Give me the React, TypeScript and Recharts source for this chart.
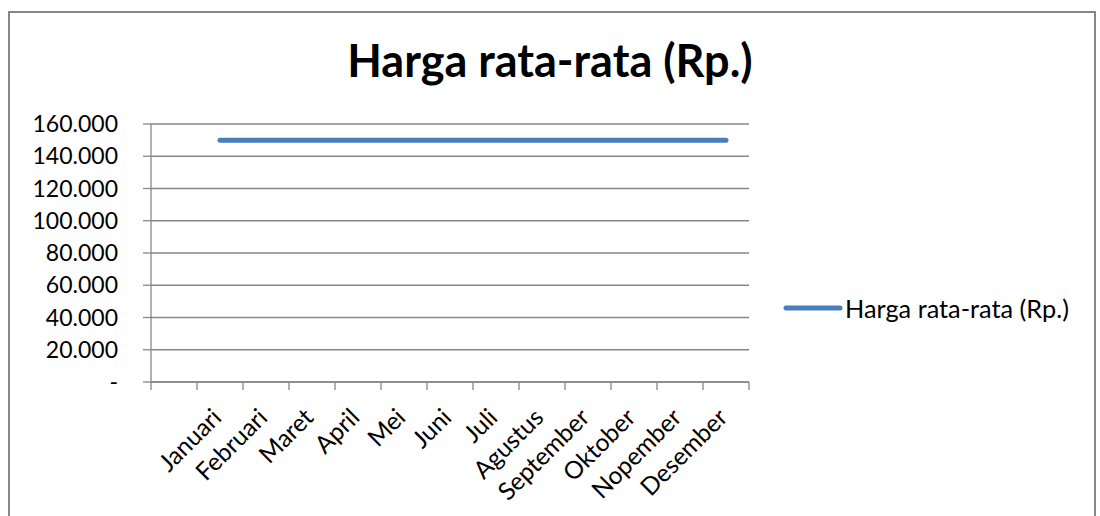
import React from 'react';
import { LineChart, Line, XAxis, YAxis, CartesianGrid, Legend } from 'recharts';

const months = ['', 'Januari', 'Februari', 'Maret', 'April', 'Mei', 'Juni', 'Juli', 'Agustus', 'September', 'Oktober', 'Nopember', 'Desember'];
const harga: (number | null)[] = [null, 150000, 150000, 150000, 150000, 150000, 150000, 150000, 150000, 150000, 150000, 150000, 150000];
const yTicks = [0, 20000, 40000, 60000, 80000, 100000, 120000, 140000, 160000];
const seriesName = 'Harga rata-rata (Rp.)';
const title = 'Harga rata-rata (Rp.)';

const data = months.map((m, i) => ({ month: m, harga: harga[i] }));

const GRAY = '#878787';
const BLUE = '#4A7EBB';
const FONT = 'Lato, "Open Sans", sans-serif';

const fmtY = (v: number) => (v === 0 ? '-' : String(v).replace(/\B(?=(\d{3})+(?!\d))/g, '.'));

const MonthTick = (props: any) => {
  const { x, y, payload, index, visibleTicksCount } = props;
  const half = payload && typeof payload.offset === 'number' ? payload.offset : 0;
  const isLast = visibleTicksCount ? index === visibleTicksCount - 1 : payload.value === months[months.length - 1];
  return (
    <g>
      <line x1={x - half} y1={y} x2={x - half} y2={y + 8} stroke={GRAY} strokeWidth={1.3} />
      {isLast && <line x1={x + half} y1={y} x2={x + half} y2={y + 8} stroke={GRAY} strokeWidth={1.3} />}
      <text
        x={0}
        y={0}
        transform={`translate(${x + 3},${y + 37}) rotate(-45)`}
        textAnchor="end"
        fontSize={24.5}
        fontFamily={FONT}
        fill="#000"
      >
        {payload.value}
      </text>
    </g>
  );
};

const LegendContent = () => (
  <div style={{ display: 'flex', alignItems: 'center', fontFamily: FONT, fontSize: 25.3, color: '#000', whiteSpace: 'nowrap' }}>
    <svg width={60} height={10} style={{ display: 'block' }}>
      <line x1={3} y1={5} x2={57} y2={5} stroke={BLUE} strokeWidth={5} strokeLinecap="round" />
    </svg>
    <span style={{ marginLeft: 2 }}>{seriesName}</span>
  </div>
);

export default function App() {
  return (
    <div style={{ position: 'absolute', left: 0, top: 0, width: 1100, height: 516, background: '#fff' }}>
      <div
        style={{
          position: 'absolute',
          left: 8,
          top: 11,
          width: 1088,
          height: 520,
          border: `2px solid ${GRAY}`,
          boxSizing: 'border-box',
        }}
      />
      <div
        style={{
          position: 'absolute',
          left: 0,
          top: 33,
          width: 1100,
          textAlign: 'center',
          fontFamily: FONT,
          fontWeight: 700,
          fontSize: 45,
          lineHeight: '54px',
          color: '#000',
        }}
      >
        {title}
      </div>
      <div style={{ position: 'absolute', left: 0, top: 0 }}>
        <LineChart width={1100} height={516} data={data} margin={{ top: 124, right: 351, bottom: 0, left: 0 }}>
          <CartesianGrid horizontal={true} vertical={false} stroke={GRAY} strokeWidth={1.3} />
          <XAxis
            dataKey="month"
            scale="band"
            interval={0}
            height={134}
            axisLine={{ stroke: GRAY, strokeWidth: 1.3 }}
            tickLine={false}
            tickSize={0}
            tickMargin={0}
            tick={<MonthTick />}
          />
          <YAxis
            domain={[0, 160000]}
            ticks={yTicks}
            interval={0}
            width={151}
            tickFormatter={fmtY}
            tickSize={8}
            tickMargin={25}
            axisLine={{ stroke: GRAY, strokeWidth: 1.3 }}
            tickLine={{ stroke: GRAY, strokeWidth: 1.3 }}
            tick={{ fontSize: 23, fontFamily: FONT, fill: '#000' }}
          />
          <Legend
            layout="horizontal"
            verticalAlign="middle"
            align="center"
            content={<LegendContent />}
            wrapperStyle={{ position: 'absolute', left: 783, top: 293, width: 'auto' }}
          />
          <Line
            type="linear"
            dataKey="harga"
            name={seriesName}
            stroke={BLUE}
            strokeWidth={5}
            strokeLinecap="round"
            dot={false}
            activeDot={false}
            isAnimationActive={false}
          />
        </LineChart>
      </div>
    </div>
  );
}
